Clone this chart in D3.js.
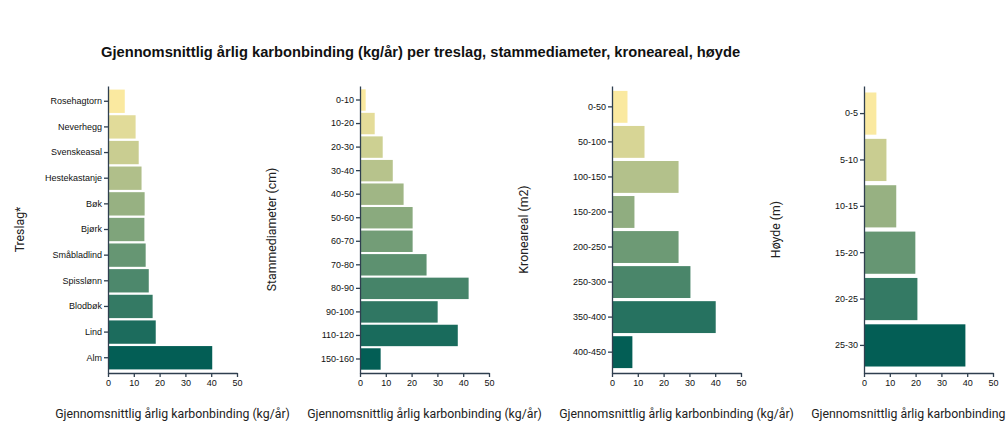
<!DOCTYPE html>
<html>
<head>
<meta charset="utf-8">
<script src="https://cdn.jsdelivr.net/npm/d3@7"></script>
<style>
  body { margin: 0; background: #fff; }
  svg { display: block; }
</style>
</head>
<body>
<svg id="chart" width="1008" height="432"></svg>
<script>
const title = "Gjennomsnittlig årlig karbonbinding (kg/år) per treslag, stammediameter, kroneareal, høyde";
const xTitle = "Gjennomsnittlig årlig karbonbinding (kg/år)";
const xTicks = [0, 10, 20, 30, 40, 50];

const treslagCats = ["Rosehagtorn", "Neverhegg", "Svenskeasal", "Hestekastanje", "Bøk", "Bjørk", "Småbladlind", "Spisslønn", "Blodbøk", "Lind", "Alm"];
const treslagVals = [6.5, 10.7, 11.9, 13.0, 14.2, 14.1, 14.6, 15.8, 17.3, 18.5, 40.4];

const diamCats = ["0-10", "10-20", "20-30", "30-40", "40-50", "50-60", "60-70", "70-80", "80-90", "90-100", "110-120", "150-160"];
const diamVals = [2.2, 5.7, 8.8, 12.7, 16.9, 20.4, 20.4, 25.8, 42.1, 30.1, 37.9, 8.0];

const kroneCats = ["0-50", "50-100", "100-150", "150-200", "200-250", "250-300", "350-400", "400-450"];
const kroneVals = [6.0, 12.6, 25.8, 8.7, 25.8, 30.4, 40.2, 7.9];

const hoydeCats = ["0-5", "5-10", "10-15", "15-20", "20-25", "25-30"];
const hoydeVals = [4.8, 8.7, 12.5, 19.9, 20.7, 39.3];

const panels = [
  { yTitle: "Treslag*", cats: treslagCats, vals: treslagVals },
  { yTitle: "Stammediameter (cm)", cats: diamCats, vals: diamVals },
  { yTitle: "Kroneareal (m2)", cats: kroneCats, vals: kroneVals },
  { yTitle: "Høyde (m)", cats: hoydeCats, vals: hoydeVals }
];

const svg = d3.select("#chart");
const axisColor = "#2f3f4f";
const colorLight = "#fae9a0", colorDark = "#035e55";

svg.append("text")
  .attr("x", 101).attr("y", 57)
  .attr("font-family", "Liberation Sans, Arial, sans-serif")
  .attr("font-weight", "bold").attr("font-size", 14.7)
  .attr("fill", "#111")
  .text(title);

const plotTop = 86, plotBottom = 373;
panels.forEach((p, k) => {
  const x0 = 108 + 252 * k;
  const x = d3.scaleLinear().domain([0, 50]).range([x0, x0 + 129]);
  const y = d3.scaleBand().domain(p.cats).range([plotTop, plotBottom]).paddingInner(0.09).paddingOuter(0.14);
  const color = d3.scaleLinear().domain([0, p.cats.length - 1]).range([colorLight, colorDark]).interpolate(d3.interpolateRgb);
  const g = svg.append("g");

  g.selectAll("rect").data(p.cats).join("rect")
    .attr("x", x(0))
    .attr("y", d => y(d))
    .attr("width", (d, i) => x(p.vals[i]) - x(0))
    .attr("height", y.bandwidth())
    .attr("fill", (d, i) => color(i));

  const yAxis = g.append("g").attr("transform", `translate(${x0},0)`)
    .call(d3.axisLeft(y).tickSize(4).tickSizeOuter(0).tickPadding(2));
  yAxis.select(".domain").attr("stroke", axisColor).attr("stroke-width", 1.3);
  yAxis.selectAll(".tick line").attr("stroke", axisColor).attr("stroke-width", 1.3);
  yAxis.selectAll(".tick text").attr("font-family", "Liberation Sans, Arial, sans-serif").attr("font-size", 9).attr("fill", "#111");

  const xAxis = g.append("g").attr("transform", `translate(0,${plotBottom})`)
    .call(d3.axisBottom(x).tickValues(xTicks).tickSize(4).tickSizeOuter(0).tickPadding(3));
  xAxis.select(".domain").attr("stroke", axisColor).attr("stroke-width", 1.3);
  xAxis.selectAll(".tick line").attr("stroke", axisColor).attr("stroke-width", 1.3);
  xAxis.selectAll(".tick text").attr("font-family", "Liberation Sans, Arial, sans-serif").attr("font-size", 9).attr("fill", "#111");

  g.append("text")
    .attr("x", x0 + 64.5).attr("y", 418)
    .attr("text-anchor", "middle")
    .attr("font-family", "Roboto, sans-serif").attr("font-size", 12.3)
    .attr("fill", "#222")
    .text(xTitle);

  g.append("text")
    .attr("transform", `translate(${x0 - 84},${(plotTop + plotBottom) / 2}) rotate(-90)`)
    .attr("text-anchor", "middle")
    .attr("font-family", "Roboto, sans-serif").attr("font-size", 12.3)
    .attr("fill", "#222")
    .text(p.yTitle);
});
</script>
</body>
</html>
